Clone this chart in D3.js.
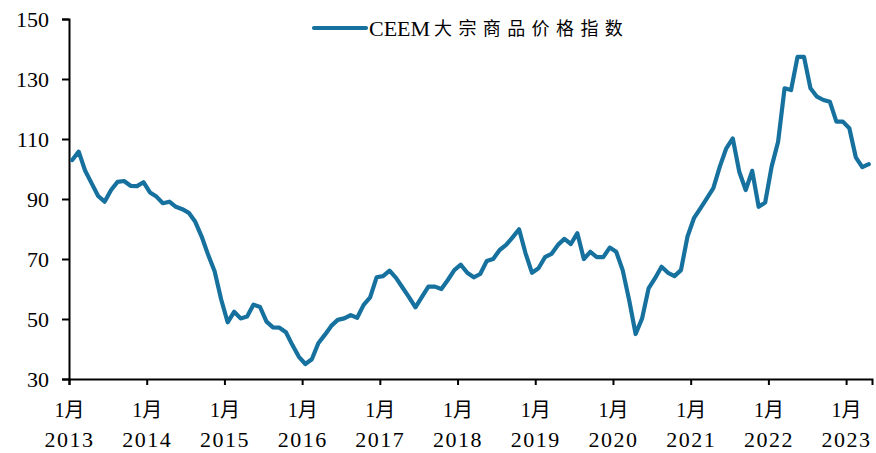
<!DOCTYPE html>
<html>
<head>
<meta charset="utf-8">
<script src="https://cdn.jsdelivr.net/npm/d3@7"></script>
<style>
  body { margin: 0; background: #fff; }
  #graphicContainer { width: 876px; height: 453px; }
  text { font-family: "Liberation Serif", "Noto Sans CJK SC", serif; fill: #000; }
</style>
</head>
<body>
<div id="graphicContainer"></div>
<script>
// monthly values, Jan 2013 .. Apr 2023
const v2013 = [103.0, 105.8, 99.4, 95.2, 91.0, 89.1, 93.0, 95.7, 96.0, 94.4, 94.3, 95.6];
const v2014 = [92.2, 90.8, 88.6, 89.1, 87.4, 86.6, 85.4, 82.4, 77.4, 71.3, 65.8, 56.5];
const v2015 = [48.9, 52.4, 50.2, 50.8, 54.8, 54.0, 49.1, 47.2, 47.1, 45.6, 41.3, 37.4];
const v2016 = [35.0, 36.6, 41.9, 44.7, 47.7, 49.7, 50.2, 51.3, 50.4, 54.7, 57.2, 63.9];
const v2017 = [64.3, 66.1, 63.7, 60.5, 57.3, 53.9, 57.4, 60.8, 60.8, 60.0, 63.0, 66.3];
const v2018 = [68.1, 65.4, 63.9, 65.0, 69.3, 70.0, 73.0, 74.7, 77.2, 79.9, 71.9, 65.4];
const v2019 = [66.9, 70.6, 71.7, 74.7, 76.7, 75.0, 78.6, 70.0, 72.4, 70.6, 70.6, 73.8];
const v2020 = [72.4, 66.3, 56.3, 45.0, 50.2, 60.2, 63.6, 67.4, 65.4, 64.3, 66.3, 77.4];
const v2021 = [83.6, 86.9, 90.2, 93.6, 100.8, 106.9, 110.2, 99.1, 93.0, 99.4, 87.4, 88.8];
const v2022 = [100.8, 109.1, 126.9, 126.3, 137.4, 137.4, 126.9, 124.1, 123.0, 122.4, 115.8, 115.8];
const v2023 = [113.6, 103.9, 100.6, 101.6];

const years = ['2013', '2014', '2015', '2016', '2017', '2018', '2019', '2020', '2021', '2022', '2023'];
const yTicks = [30, 50, 70, 90, 110, 130, 150];
const seriesCode = 'CEEM';
const seriesName = '大宗商品价格指数';

const values = [].concat(v2013, v2014, v2015, v2016, v2017, v2018, v2019, v2020, v2021, v2022, v2023);
const mainColor = '#16719f';

const Width = 876, Height = 453;
const container = d3.select('#graphicContainer');
const svg = container.append('svg')
  .attr('width', Width)
  .attr('height', Height);

// category axis: one slot per month, points in the middle of the slot
const x = d3.scaleLinear().domain([0, values.length]).range([69, 872]);
const y = d3.scaleLinear().domain([30, 150]).range([379, 19]);

const yAxis = svg.append('g')
  .attr('class', 'yAxis')
  .attr('transform', 'translate(69,0)')
  .call(d3.axisLeft(y).tickValues(yTicks).tickSize(7).tickPadding(13));
yAxis.select('.domain').attr('stroke', '#000').attr('stroke-width', 2);
yAxis.selectAll('.tick line').attr('stroke', '#000').attr('stroke-width', 2);
yAxis.selectAll('.tick text')
  .attr('font-size', 22)
  .style('font-family', '"Liberation Serif", serif');

const xAxis = svg.append('g')
  .attr('class', 'xAxis')
  .attr('transform', 'translate(0,379)')
  .call(d3.axisBottom(x).tickValues(years.map((d, i) => i * 12)).tickSize(6).tickFormat(''));
xAxis.select('.domain').attr('stroke', '#000').attr('stroke-width', 2);
xAxis.selectAll('.tick line').attr('stroke', '#000').attr('stroke-width', 2);

const labels = xAxis.selectAll('.tick')
  .append('text')
  .attr('text-anchor', 'middle');
labels.append('tspan')
  .attr('x', 0)
  .attr('y', 38)
  .attr('font-size', 20)
  .text('1月');
labels.append('tspan')
  .attr('x', 0)
  .attr('y', 68)
  .attr('font-size', 22)
  .attr('letter-spacing', 1.5)
  .text((d, i) => years[i]);

const line = d3.line()
  .x((d, i) => x(i + 0.5))
  .y(d => y(d));

svg.append('path')
  .datum(values)
  .attr('class', 'seriesLine')
  .attr('fill', 'none')
  .attr('stroke', mainColor)
  .attr('stroke-width', 4.2)
  .attr('stroke-linejoin', 'round')
  .attr('stroke-linecap', 'round')
  .attr('d', line);

// legend
const legend = svg.append('g').attr('class', 'legend');
legend.append('line')
  .attr('x1', 314).attr('x2', 366)
  .attr('y1', 28).attr('y2', 28)
  .attr('stroke', mainColor)
  .attr('stroke-width', 4.2)
  .attr('stroke-linecap', 'round');
const legendText = legend.append('text')
  .attr('y', 36);
legendText.append('tspan')
  .attr('x', 369)
  .attr('font-size', 22)
  .text(seriesCode);
legendText.append('tspan')
  .attr('x', 434)
  .attr('y', 35)
  .attr('font-size', 18)
  .attr('letter-spacing', 6.4)
  .text(seriesName);
</script>
</body>
</html>
